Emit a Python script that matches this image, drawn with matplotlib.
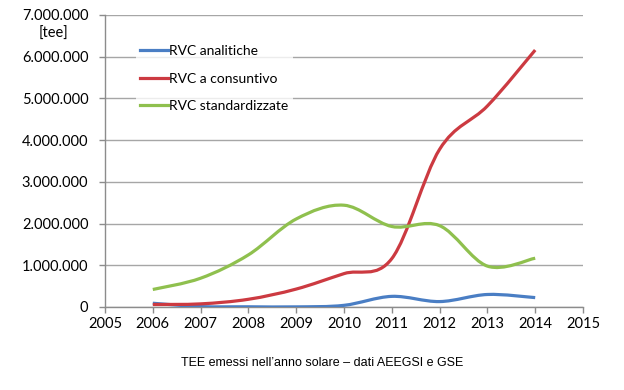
import matplotlib
matplotlib.use("Agg")
import matplotlib.pyplot as plt
from matplotlib.path import Path
from matplotlib.patches import PathPatch
from matplotlib.lines import Line2D
from matplotlib.ticker import FuncFormatter, MultipleLocator
import numpy as np

years = [2006, 2007, 2008, 2009, 2010, 2011, 2012, 2013, 2014]
rvc_analitiche = [90000, 10000, 5000, 3000, 40000, 255000, 130000, 300000, 225000]
rvc_consuntivo = [60000, 75000, 185000, 430000, 800000, 1160000, 3780000, 4820000, 6160000]
rvc_standard = [420000, 690000, 1250000, 2110000, 2440000, 1930000, 1950000, 980000, 1170000]

labels = ["RVC analitiche", "RVC a consuntivo", "RVC standardizzate"]
colors = ["#4a7ec4", "#cc3a41", "#8fc04e"]

plt.rcParams['font.family'] = ['Lato', 'DejaVu Sans']

fig = plt.figure(figsize=(6.24, 3.9), dpi=100)
ax = fig.add_axes([105/624, 1-307/390, (583-105)/624, (307-15)/390])


def smooth_path(x, y):
    pts = np.column_stack([x, y]).astype(float)
    n = len(pts)
    verts = [pts[0]]
    codes = [Path.MOVETO]
    for i in range(n - 1):
        p0 = pts[i - 1] if i > 0 else pts[i]
        p1 = pts[i]
        p2 = pts[i + 1]
        p3 = pts[i + 2] if i + 2 < n else pts[i + 1]
        c1 = p1 + (p2 - p0) / 6.0
        c2 = p2 - (p3 - p1) / 6.0
        verts += [c1, c2, p2]
        codes += [Path.CURVE4] * 3
    return Path(verts, codes)


series = [rvc_analitiche, rvc_consuntivo, rvc_standard]
for vals, col in zip(series, colors):
    patch = PathPatch(smooth_path(years, vals), facecolor='none', edgecolor=col,
                      lw=2.3, capstyle='butt', joinstyle='round', zorder=3)
    ax.add_patch(patch)

ax.set_xlim(2005, 2015)
ax.set_ylim(0, 7000000)
ax.xaxis.set_major_locator(MultipleLocator(1))
ax.yaxis.set_major_locator(MultipleLocator(1000000))
ax.yaxis.set_major_formatter(FuncFormatter(lambda v, p: f"{int(v):,}".replace(",", ".")))

ax.grid(axis='y', color='#a6a6a6', lw=1.0, zorder=0)
ax.set_axisbelow(True)
for s in ['top', 'right']:
    ax.spines[s].set_visible(False)
for s in ['left', 'bottom']:
    ax.spines[s].set_color('#8c8c8c')
    ax.spines[s].set_linewidth(1.0)
ax.tick_params(axis='both', colors='#8c8c8c', length=4, width=1.0, labelcolor='black',
               labelsize=10.5)
ax.tick_params(axis='y', pad=8)
ax.tick_params(axis='x', pad=3)

handles = [Line2D([0], [0], color=c, lw=2.3) for c in colors]
leg = ax.legend(handles, labels, loc='upper left', bbox_to_anchor=(0.05, 0.935),
                frameon=True, fontsize=10, handlelength=2.0, handletextpad=0.1,
                labelspacing=1.12, borderpad=0.3)
leg.get_frame().set_facecolor('white')
leg.get_frame().set_edgecolor('none')

fig.text(53/624, 1-34/390, "[tee]", ha='center', va='center', fontsize=10.5)
fig.text(322/624, 1-363/390, "TEE emessi nell\u2019anno solare \u2013 dati AEEGSI e GSE",
         ha='center', va='center', fontsize=9,
         family=['Liberation Sans Narrow', 'Liberation Sans', 'DejaVu Sans'])

fig.savefig("out.png", dpi=100)
